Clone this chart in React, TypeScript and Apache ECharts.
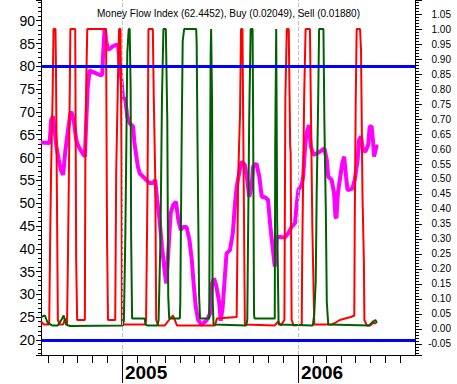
import React, { useEffect, useRef } from 'react';
import * as echarts from 'echarts';

const DAY = 86400000;
const BASE = Date.UTC(2005, 0, 1); // x values are days counted from 1 Jan 2005

const TITLE = 'Money Flow Index (62.4452), Buy (0.02049), Sell (0.01880)';
const YEARS = [2005, 2006];
const LEFT_STEP = 5;      // left tick labels 20, 25 ... 90
const RIGHT_STEP = 0.05;  // right tick labels -0.05, 0.00 ... 1.05
const OVERBOUGHT = 80;
const OVERSOLD = 20;

// [day from 2005-01-01, MFI]
const mfi: [number, number][] = [
  [-168, 63.3], [-150, 63.2], [-147, 68.2], [-143, 69.0], [-136, 62.4], [-131, 59.5], [-127, 57.3], [-122, 56.2],
  [-118, 61.0], [-112, 66.0], [-107, 69.7], [-105, 70.0], [-100, 68.2], [-95, 63.9], [-90, 62.4], [-84, 61.3],
  [-77, 60.2], [-74, 68.2], [-71, 75.5], [-67, 79.2], [-64, 78.9], [-57, 78.6], [-46, 78.1], [-41, 78.1],
  [-39, 82.9], [-36, 88.3], [-33, 85.8], [-29, 83.6], [-23, 84.0], [-19, 84.4], [-12, 84.7], [-8, 84.7],
  [-5, 80.7], [-1, 77.0], [2, 73.3], [7, 72.6], [11, 69.0], [16, 67.5], [23, 66.8], [26, 63.1], [33, 58.0],
  [37, 56.5], [44, 55.8], [50, 55.1], [57, 54.4], [64, 54.4], [69, 55.1], [73, 50.7], [78, 46.3], [83, 40.5],
  [89, 34.6], [92, 32.4], [96, 39.0], [101, 47.8], [106, 49.6], [112, 50.3], [117, 46.3], [122, 44.1],
  [127, 44.8], [134, 44.8], [140, 41.9], [145, 37.5], [148, 33.2], [153, 27.3], [158, 24.4], [165, 23.3],
  [176, 24.4], [183, 25.8], [187, 32.4], [191, 33.5], [196, 31.7], [202, 28.0], [205, 24.2], [209, 27.3],
  [214, 34.6], [217, 39.0], [224, 39.7], [230, 43.4], [234, 49.2], [238, 53.6], [243, 56.5], [248, 59.1],
  [255, 58.4], [260, 55.1], [264, 51.4], [269, 53.6], [272, 58.0], [279, 58.7], [285, 55.8], [290, 51.4],
  [297, 51.3], [303, 50.7], [308, 44.8], [314, 39.0], [317, 36.1], [321, 42.6], [328, 42.6], [338, 42.5],
  [345, 43.4], [352, 44.8], [359, 45.6], [362, 49.2], [366, 52.9], [373, 54.0], [376, 55.8], [380, 62.4],
  [383, 65.3], [388, 67.1], [392, 62.4], [397, 60.6], [404, 60.9], [411, 61.3], [420, 62.0], [425, 59.5],
  [428, 55.8], [435, 55.1], [440, 52.2], [443, 47.0], [445, 46.7], [448, 52.2], [452, 55.1], [457, 58.7],
  [461, 60.2], [465, 55.8], [468, 52.9], [473, 53.0], [478, 53.2], [483, 55.1], [489, 59.5], [492, 63.9],
  [496, 64.6], [500, 61.7], [505, 61.3], [511, 62.8], [514, 66.8], [518, 66.8], [521, 63.5], [523, 60.2],
  [528, 62.4], [532, 62.4],
];

// [day from 2005-01-01, sell signal]
const sell: [number, number][] = [
  [-168, 0.025], [-162, 0.015], [-151, 0.015], [-149, 0.30], [-147, 0.53], [-144, 0.77], [-142, 1.0], [-138, 1.0],
  [-137, 0.88], [-135, 0.45], [-133, 0.03], [-129, 0.015], [-122, 0.015], [-118, 0.035], [-114, 0.015],
  [-113, 0.015], [-112, 0.25], [-110, 0.53], [-107, 1.0], [-97, 1.0], [-95, 0.23], [-93, 0.03], [-77, 0.03],
  [-76, 0.56], [-74, 0.83], [-72, 1.0], [-33, 1.0], [-31, 0.31], [-29, 0.03], [-14, 0.03], [-12, 0.52],
  [-8, 0.86], [-6, 1.0], [-3, 1.0], [-1, 0.58], [0, 0.015], [49, 0.015], [50, 0.03], [53, 0.47], [55, 1.0],
  [64, 1.0], [66, 0.77], [69, 0.51], [71, 0.03], [75, 0.012], [89, 0.012], [100, 0.035], [106, 0.045],
  [114, 0.012], [193, 0.012], [197, 0.035], [238, 0.04], [241, 0.5], [245, 0.72], [247, 1.0], [250, 1.0],
  [252, 0.6], [255, 0.015], [317, 0.012], [324, 0.025], [330, 0.012], [337, 0.03], [339, 0.77], [342, 1.0],
  [346, 1.0], [349, 0.61], [350, 0.59], [352, 0.03], [356, 0.012], [373, 0.015], [374, 0.25], [378, 0.77],
  [381, 1.0], [390, 1.0], [392, 0.74], [395, 0.34], [399, 0.015], [435, 0.015], [442, 0.02], [452, 0.03],
  [463, 0.035], [475, 0.04], [482, 0.045], [483, 0.36], [485, 0.76], [487, 1.0], [494, 1.0], [496, 0.93],
  [499, 0.45], [502, 0.22], [503, 0.03], [508, 0.012], [515, 0.012], [521, 0.02], [528, 0.0188],
];

// [day from 2005-01-01, buy signal]
const buy: [number, number][] = [
  [-168, 0.04], [-160, 0.045], [-154, 0.02], [-145, 0.012], [-133, 0.012], [-124, 0.035], [-121, 0.045],
  [-116, 0.015], [-108, 0.01], [2, 0.012], [4, 0.03], [7, 0.31], [9, 0.6], [11, 0.92], [14, 1.0], [16, 1.0],
  [18, 0.8], [19, 0.31], [21, 0.035], [47, 0.035], [49, 0.015], [52, 0.012], [74, 0.012], [76, 0.03],
  [80, 0.31], [83, 0.77], [86, 1.0], [91, 1.0], [94, 0.7], [96, 0.11], [98, 0.035], [120, 0.035], [121, 0.087],
  [124, 0.66], [126, 0.96], [129, 1.0], [154, 1.0], [155, 0.95], [157, 0.57], [160, 0.11], [162, 0.035],
  [181, 0.035], [182, 0.36], [184, 0.92], [185, 1.0], [187, 0.75], [188, 0.11], [190, 0.015], [258, 0.012],
  [260, 0.03], [264, 0.70], [267, 1.0], [271, 1.0], [272, 0.74], [274, 0.05], [275, 0.035], [317, 0.035],
  [318, 0.61], [320, 1.0], [321, 1.0], [322, 0.36], [325, 0.015], [396, 0.012], [399, 0.05], [402, 0.16],
  [404, 0.45], [407, 0.75], [409, 1.0], [418, 1.0], [420, 0.69], [423, 0.39], [425, 0.09], [428, 0.015],
  [513, 0.012], [521, 0.025], [526, 0.03], [529, 0.0205],
];

const X_MIN = -168;
const X_MAX = 608;
const L_MIN = 16.71;
const L_MAX = 94.54;
const R_MIN = -0.0867;
const R_MAX = 1.0967;

const dayOf = (y: number, m: number) => (Date.UTC(y, m, 1) - BASE) / DAY;

const monthTicks: number[] = [];
for (let y = 2004; y <= 2006; y++) {
  for (let m = 0; m < 12; m++) {
    const d = dayOf(y, m);
    if (d > X_MIN && d < X_MAX) monthTicks.push(d);
  }
}
const yearTicks = YEARS.map((y) => dayOf(y, 0));

const FONT = 'Liberation Sans';

export default function App() {
  const ref = useRef<HTMLDivElement>(null);
  useEffect(() => {
    document.body.style.margin = '0';
    if (!ref.current) return;
    const chart = echarts.init(ref.current, undefined, { renderer: 'svg' });
    const lineOpts = { type: 'line', showSymbol: false, symbol: 'none', silent: true, animation: false };
    chart.setOption({
      animation: false,
      backgroundColor: '#ffffff',
      title: {
        text: TITLE,
        left: 'center',
        top: 3,
        textStyle: { fontFamily: FONT, fontSize: 10, fontWeight: 'normal', color: '#000000' },
      },
      grid: { left: 41, right: 42, top: 0, bottom: 29, containLabel: false, outerBoundsMode: 'none' },
      xAxis: [
        {
          type: 'value', min: X_MIN, max: X_MAX, position: 'bottom',
          axisLine: { show: true, onZero: false, lineStyle: { color: '#000000', width: 1 } },
          axisTick: { show: true, customValues: monthTicks, length: 8, lineStyle: { color: '#000000', width: 1 } },
          axisLabel: { show: false },
          splitLine: { show: false },
        },
        {
          type: 'value', min: X_MIN, max: X_MAX, position: 'bottom',
          axisLine: { show: false, onZero: false },
          axisTick: { show: true, customValues: yearTicks, length: 28, lineStyle: { color: '#000000', width: 1 } },
          axisLabel: {
            show: true, customValues: yearTicks,
            formatter: (v: number) => String(new Date(BASE + v * DAY).getUTCFullYear()),
            align: 'left', padding: [0, 0, 0, 3], margin: 8,
            fontFamily: FONT, fontSize: 19, fontWeight: 'bold', color: '#000000',
          },
          splitLine: { show: false },
        },
      ],
      yAxis: [
        {
          type: 'value', min: L_MIN, max: L_MAX, position: 'left',
          splitNumber: 15, minInterval: LEFT_STEP, maxInterval: LEFT_STEP,
          axisLine: { show: true, onZero: false, lineStyle: { color: '#000000', width: 1 } },
          axisTick: { show: true, length: 5, lineStyle: { color: '#000000' } },
          minorTick: { show: true, splitNumber: 5, length: 3, lineStyle: { color: '#000000', width: 1 } },
          axisLabel: {
            show: true, showMinLabel: false, showMaxLabel: false, margin: 6,
            fontFamily: FONT, fontSize: 14, color: '#000000',
          },
          splitLine: { show: false },
          minorSplitLine: { show: false },
        },
        {
          type: 'value', min: R_MIN, max: R_MAX, position: 'right',
          splitNumber: 23, minInterval: RIGHT_STEP, maxInterval: RIGHT_STEP,
          axisLine: { show: true, onZero: false, lineStyle: { color: '#000000', width: 1 } },
          axisTick: { show: true, length: 7, lineStyle: { color: '#000000' } },
          minorTick: { show: true, splitNumber: 5, length: 4, lineStyle: { color: '#000000', width: 1 } },
          axisLabel: {
            show: true, showMinLabel: false, showMaxLabel: false,
            formatter: (v: number) => v.toFixed(2),
            align: 'right', margin: 36, fontFamily: FONT, fontSize: 10, color: '#000000',
          },
          splitLine: { show: false },
          minorSplitLine: { show: false },
        },
      ],
      series: [
        {
          ...lineOpts,
          name: 'Money Flow Index',
          xAxisIndex: 0, yAxisIndex: 0,
          data: mfi,
          lineStyle: { color: '#ff00ff', width: 4 },
          z: 2,
          markLine: {
            silent: true, symbol: ['none', 'none'], label: { show: false }, animation: false,
            emphasis: { disabled: true },
            data: [
              ...yearTicks.map((d) => ({ xAxis: d, lineStyle: { color: '#c0c0c0', width: 1, type: 'dashed' } })),
              { yAxis: OVERBOUGHT, lineStyle: { color: '#0000ff', width: 3, type: 'solid' } },
              { yAxis: OVERSOLD, lineStyle: { color: '#0000ff', width: 3, type: 'solid' } },
            ],
          },
        },
        {
          ...lineOpts,
          name: 'Sell',
          xAxisIndex: 0, yAxisIndex: 1,
          data: sell,
          lineStyle: { color: '#ff0000', width: 2 },
          z: 3,
        },
        {
          ...lineOpts,
          name: 'Buy',
          xAxisIndex: 0, yAxisIndex: 1,
          data: buy,
          lineStyle: { color: '#006000', width: 2 },
          z: 3,
        },
      ],
    });
    return () => chart.dispose();
  }, []);
  return <div ref={ref} style={{ position: 'absolute', left: 0, top: 0, width: 457, height: 384 }} />;
}
